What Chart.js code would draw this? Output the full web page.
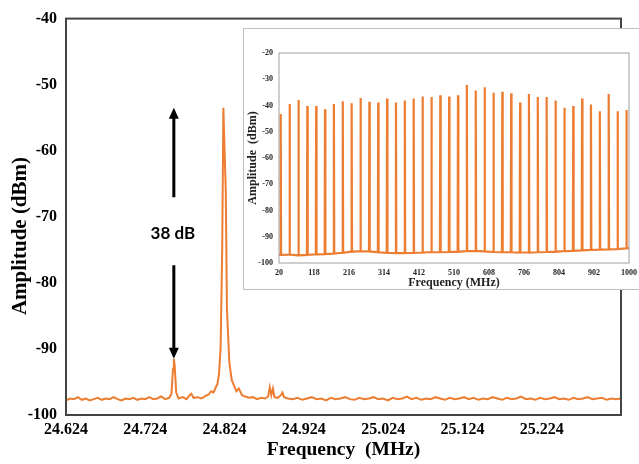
<!DOCTYPE html>
<html>
<head>
<meta charset="utf-8">
<script src="https://cdn.jsdelivr.net/npm/chart.js@4.4.1/dist/chart.umd.min.js"></script>
<style>
  html, body { margin: 0; padding: 0; background: #fff; overflow: hidden; }
  #wrap { position: relative; width: 639px; height: 464px; overflow: hidden; }
  #main { position: absolute; left: 0; top: 0; }
  #insetBox { position: absolute; left: 243px; top: 28px; width: 400px; height: 262px;
              box-sizing: border-box; border: 1px solid #bfbfbf; background: #fff; }
  #inset { position: absolute; left: 0; top: 0; }
</style>
</head>
<body>
<div id="wrap">
  <canvas id="main" width="639" height="464"></canvas>
  <div id="insetBox"><canvas id="inset" width="398" height="260"></canvas></div>
</div>
<script>
// main spectrum (MHz, dBm)
const mainFreq = [
  24.624, 24.629, 24.634, 24.639, 24.644, 24.649, 24.654, 24.659, 24.664, 24.669,
  24.674, 24.679, 24.684, 24.689, 24.694, 24.699, 24.704, 24.709, 24.714, 24.719,
  24.724, 24.729, 24.734, 24.739, 24.744, 24.749, 24.754, 24.757, 24.759, 24.760,
  24.761, 24.763, 24.766, 24.771, 24.776, 24.780, 24.782, 24.785, 24.790, 24.795,
  24.800, 24.804, 24.807, 24.810, 24.813, 24.815, 24.817, 24.819, 24.821, 24.8225,
  24.824, 24.8255, 24.827, 24.830, 24.833, 24.836, 24.839, 24.842, 24.846, 24.850,
  24.855, 24.860, 24.865, 24.870, 24.875, 24.879, 24.881, 24.883, 24.885, 24.887,
  24.891, 24.895, 24.897, 24.899, 24.904,
  24.910, 24.916, 24.922, 24.928, 24.934, 24.940, 24.946, 24.952, 24.958, 24.964,
  24.970, 24.976, 24.982, 24.988, 24.994, 25.000, 25.006, 25.012, 25.018, 25.024,
  25.030, 25.036, 25.042, 25.048, 25.054, 25.060, 25.066, 25.072, 25.078, 25.084,
  25.090, 25.096, 25.102, 25.108, 25.114, 25.120, 25.126, 25.132, 25.138, 25.144,
  25.150, 25.156, 25.162, 25.168, 25.174, 25.180, 25.186, 25.192, 25.198, 25.204,
  25.210, 25.216, 25.222, 25.228, 25.234, 25.240, 25.246, 25.252, 25.258, 25.264,
  25.270, 25.276, 25.282, 25.288, 25.294, 25.300, 25.306, 25.312, 25.318, 25.324
];
const mainAmp = [
  -97.8, -97.5, -97.6, -97.3, -97.7, -97.5, -97.8, -97.6, -97.4, -97.7,
  -97.5, -97.6, -97.3, -97.6, -97.8, -97.5, -97.6, -97.4, -97.7, -97.5,
  -97.6, -97.3, -97.6, -97.5, -97.2, -97.6, -97.4, -96.8, -93.0, -91.5,
  -92.4, -96.6, -97.5, -97.3, -97.6, -97.0, -96.8, -97.4, -97.3, -97.5,
  -97.1, -96.9, -96.4, -96.6, -95.8, -95.3, -93.8, -89.8, -75.0, -53.5,
  -60.0, -66.0, -84.0, -92.0, -94.7, -95.6, -96.4, -96.0, -97.0, -97.2,
  -97.4, -97.3, -97.6, -97.4, -97.5, -97.2, -95.8, -97.0, -96.0, -97.3,
  -97.4, -97.0, -96.6, -97.3, -97.5,
  -97.6, -97.4, -97.7, -97.5, -97.3, -97.6, -97.5, -97.8, -97.4, -97.6,
  -97.5, -97.3, -97.6, -97.7, -97.4, -97.6, -97.5, -97.3, -97.6, -97.5,
  -97.8, -97.4, -97.6, -97.5, -97.2, -97.6, -97.4, -97.7, -97.5, -97.6,
  -97.3, -97.5, -97.7, -97.4, -97.6, -97.5, -97.3, -97.6, -97.4, -97.7,
  -97.5, -97.6, -97.3, -97.5, -97.7, -97.4, -97.6, -97.5, -97.2, -97.6,
  -97.5, -97.7, -97.4, -97.6, -97.5, -97.3, -97.6, -97.5, -97.7, -97.4,
  -97.6, -97.5, -97.3, -97.6, -97.5, -97.4, -97.7, -97.5, -97.6, -97.5
];
const mainXTicks = [24.624, 24.724, 24.824, 24.924, 25.024, 25.124, 25.224];
const mainYTitle = 'Amplitude (dBm)';

// 38 dB marker: between carrier level and spur level, at spur frequency
const markFreq = 24.760;
const markTop = -53.5;
const markBottom = -91.5;
const markLabel = '38 dB';

// inset: comb lines 20 - 1000 MHz
const combFreq = [
  24.8, 49.6, 74.5, 99.3, 124.1, 148.9, 173.7, 198.6, 223.4, 248.2,
  273.0, 297.8, 322.7, 347.5, 372.3, 397.1, 421.9, 446.8, 471.6, 496.4,
  521.2, 546.0, 570.9, 595.7, 620.5, 645.3, 670.1, 695.0, 719.8, 744.6,
  769.4, 794.2, 819.1, 843.9, 868.7, 893.5, 918.3, 943.2, 968.0, 992.8
];
const combPeak = [
  -43.2, -39.4, -37.9, -40.2, -40.2, -41.4, -39.4, -38.4, -39.1, -37.1,
  -38.6, -38.9, -37.3, -38.9, -38.1, -37.3, -36.6, -36.8, -36.1, -36.6,
  -36.1, -32.2, -34.3, -33.0, -35.1, -34.8, -35.3, -38.9, -35.6, -36.8,
  -36.8, -38.1, -40.9, -40.2, -37.3, -39.6, -42.2, -35.6, -42.2, -41.7
];
const combFloor = [
  -96.9, -96.8, -97.1, -96.9, -96.7, -96.6, -96.4, -96.1, -95.7, -95.5,
  -95.6, -95.9, -96.1, -96.2, -96.2, -96.1, -96.0, -95.8, -95.9, -95.8,
  -95.7, -95.5, -95.4, -95.6, -95.8, -95.9, -95.9, -96.0, -96.0, -95.9,
  -95.8, -95.7, -95.5, -95.4, -95.2, -95.0, -94.9, -94.8, -94.7, -94.4
];
const insetXTicks = [20, 118, 216, 314, 412, 510, 608, 706, 804, 902, 1000];

const ORANGE = '#ED7D31';
const SERIF = "'Liberation Serif', 'Times New Roman', serif";

const mainData = mainFreq.map((f, i) => ({ x: f, y: mainAmp[i] }));

const insetData = [{ x: 20, y: -96.9 }];
combFreq.forEach((f, i) => {
  insetData.push({ x: f - 1, y: combFloor[i] });
  insetData.push({ x: f, y: combPeak[i] });
  insetData.push({ x: f + 1, y: combFloor[i] });
});
insetData.push({ x: 1000, y: -94.3 });

function framePlugin(color, width) {
  return {
    id: 'frame',
    afterDraw(chart) {
      const { ctx, chartArea: a } = chart;
      ctx.save();
      ctx.strokeStyle = color;
      ctx.lineWidth = width;
      ctx.strokeRect(a.left, a.top, a.right - a.left, a.bottom - a.top);
      ctx.restore();
    }
  };
}

function arrowHead(ctx, x, y, dir) {
  ctx.beginPath();
  ctx.moveTo(x, y);
  ctx.lineTo(x - 5, y - dir * 11);
  ctx.lineTo(x + 5, y - dir * 11);
  ctx.closePath();
  ctx.fill();
}

const markerPlugin = {
  id: 'marker',
  afterDatasetsDraw(chart) {
    const { ctx, scales: { x, y } } = chart;
    const px = x.getPixelForValue(markFreq);
    const yTop = y.getPixelForValue(markTop);
    const yBot = y.getPixelForValue(markBottom);
    const mid = (yTop + yBot) / 2;
    ctx.save();
    ctx.strokeStyle = '#000';
    ctx.fillStyle = '#000';
    ctx.lineWidth = 3;
    ctx.beginPath();
    ctx.moveTo(px, mid - 36);
    ctx.lineTo(px, yTop + 8);
    ctx.moveTo(px, mid + 32);
    ctx.lineTo(px, yBot - 8);
    ctx.stroke();
    arrowHead(ctx, px, yTop, -1);
    arrowHead(ctx, px, yBot, 1);
    ctx.font = "bold 17px Lato, 'Open Sans', sans-serif";
    ctx.textAlign = 'center';
    ctx.textBaseline = 'middle';
    ctx.fillText(markLabel, px - 1, mid);

    // y axis title, sits a little below the plot's middle
    ctx.font = 'bold 21px ' + SERIF;
    ctx.translate(21, 236);
    ctx.rotate(-Math.PI / 2);
    ctx.fillText(mainYTitle, 0, 0);
    ctx.restore();
  }
};

new Chart(document.getElementById('main'), {
  type: 'line',
  data: {
    datasets: [{
      data: mainData,
      borderColor: ORANGE,
      borderWidth: 2,
      pointRadius: 0,
      tension: 0
    }]
  },
  options: {
    responsive: false,
    animation: false,
    layout: { padding: { top: 13, right: 18, left: 0, bottom: 0 } },
    plugins: { legend: { display: false }, tooltip: { enabled: false } },
    scales: {
      x: {
        type: 'linear',
        min: 24.624,
        max: 25.324,
        grid: { display: false, drawTicks: false },
        border: { display: false },
        afterBuildTicks: s => { s.ticks = mainXTicks.map(v => ({ value: v })); },
        afterFit: s => { s.height = 49; },
        ticks: {
          autoSkip: false, maxRotation: 0, padding: 5, color: '#000',
          font: { family: SERIF, size: 16, weight: 'bold' },
          callback: v => v.toFixed(3)
        },
        title: {
          display: true, text: 'Frequency  (MHz)', color: '#000',
          font: { family: SERIF, size: 19.5, weight: 'bold', lineHeight: 1.2 },
          padding: { top: 0, bottom: 2 }
        }
      },
      y: {
        min: -100,
        max: -40,
        grid: { display: false, drawTicks: false },
        border: { display: false },
        afterFit: s => { s.width = 66; },
        ticks: {
          stepSize: 10, padding: 9, color: '#000',
          font: { family: SERIF, size: 16, weight: 'bold' }
        }
      }
    }
  },
  plugins: [framePlugin('#444', 2), markerPlugin]
});

new Chart(document.getElementById('inset'), {
  type: 'line',
  data: {
    datasets: [{
      data: insetData,
      borderColor: ORANGE,
      borderWidth: 2.2,
      pointRadius: 0,
      tension: 0
    }]
  },
  options: {
    responsive: false,
    animation: false,
    layout: { padding: { top: 24, right: 11, left: 0, bottom: 0 } },
    plugins: { legend: { display: false }, tooltip: { enabled: false } },
    scales: {
      x: {
        type: 'linear',
        min: 20,
        max: 1000,
        grid: { display: false, drawTicks: false },
        border: { display: false },
        afterBuildTicks: s => { s.ticks = insetXTicks.map(v => ({ value: v })); },
        afterFit: s => { s.height = 26; },
        ticks: {
          autoSkip: false, maxRotation: 0, padding: 5, color: '#222',
          font: { family: SERIF, size: 8, weight: 'bold' },
          callback: v => String(v)
        },
        title: {
          display: true, text: 'Frequency (MHz)', color: '#222',
          font: { family: SERIF, size: 12, weight: 'bold', lineHeight: 1 },
          padding: { top: 0, bottom: 0 }
        }
      },
      y: {
        min: -100,
        max: -20,
        grid: { display: false, drawTicks: false },
        border: { display: false },
        afterFit: s => { s.width = 35; },
        ticks: {
          stepSize: 10, padding: 6, color: '#222',
          font: { family: SERIF, size: 8, weight: 'bold' }
        },
        title: {
          display: true, text: 'Amplitude  (dBm)', color: '#222',
          font: { family: SERIF, size: 12, weight: 'bold', lineHeight: 1 },
          padding: { top: 3, bottom: 0 }
        }
      }
    }
  },
  plugins: [framePlugin('#a0a0a0', 1)]
});
</script>
</body>
</html>
